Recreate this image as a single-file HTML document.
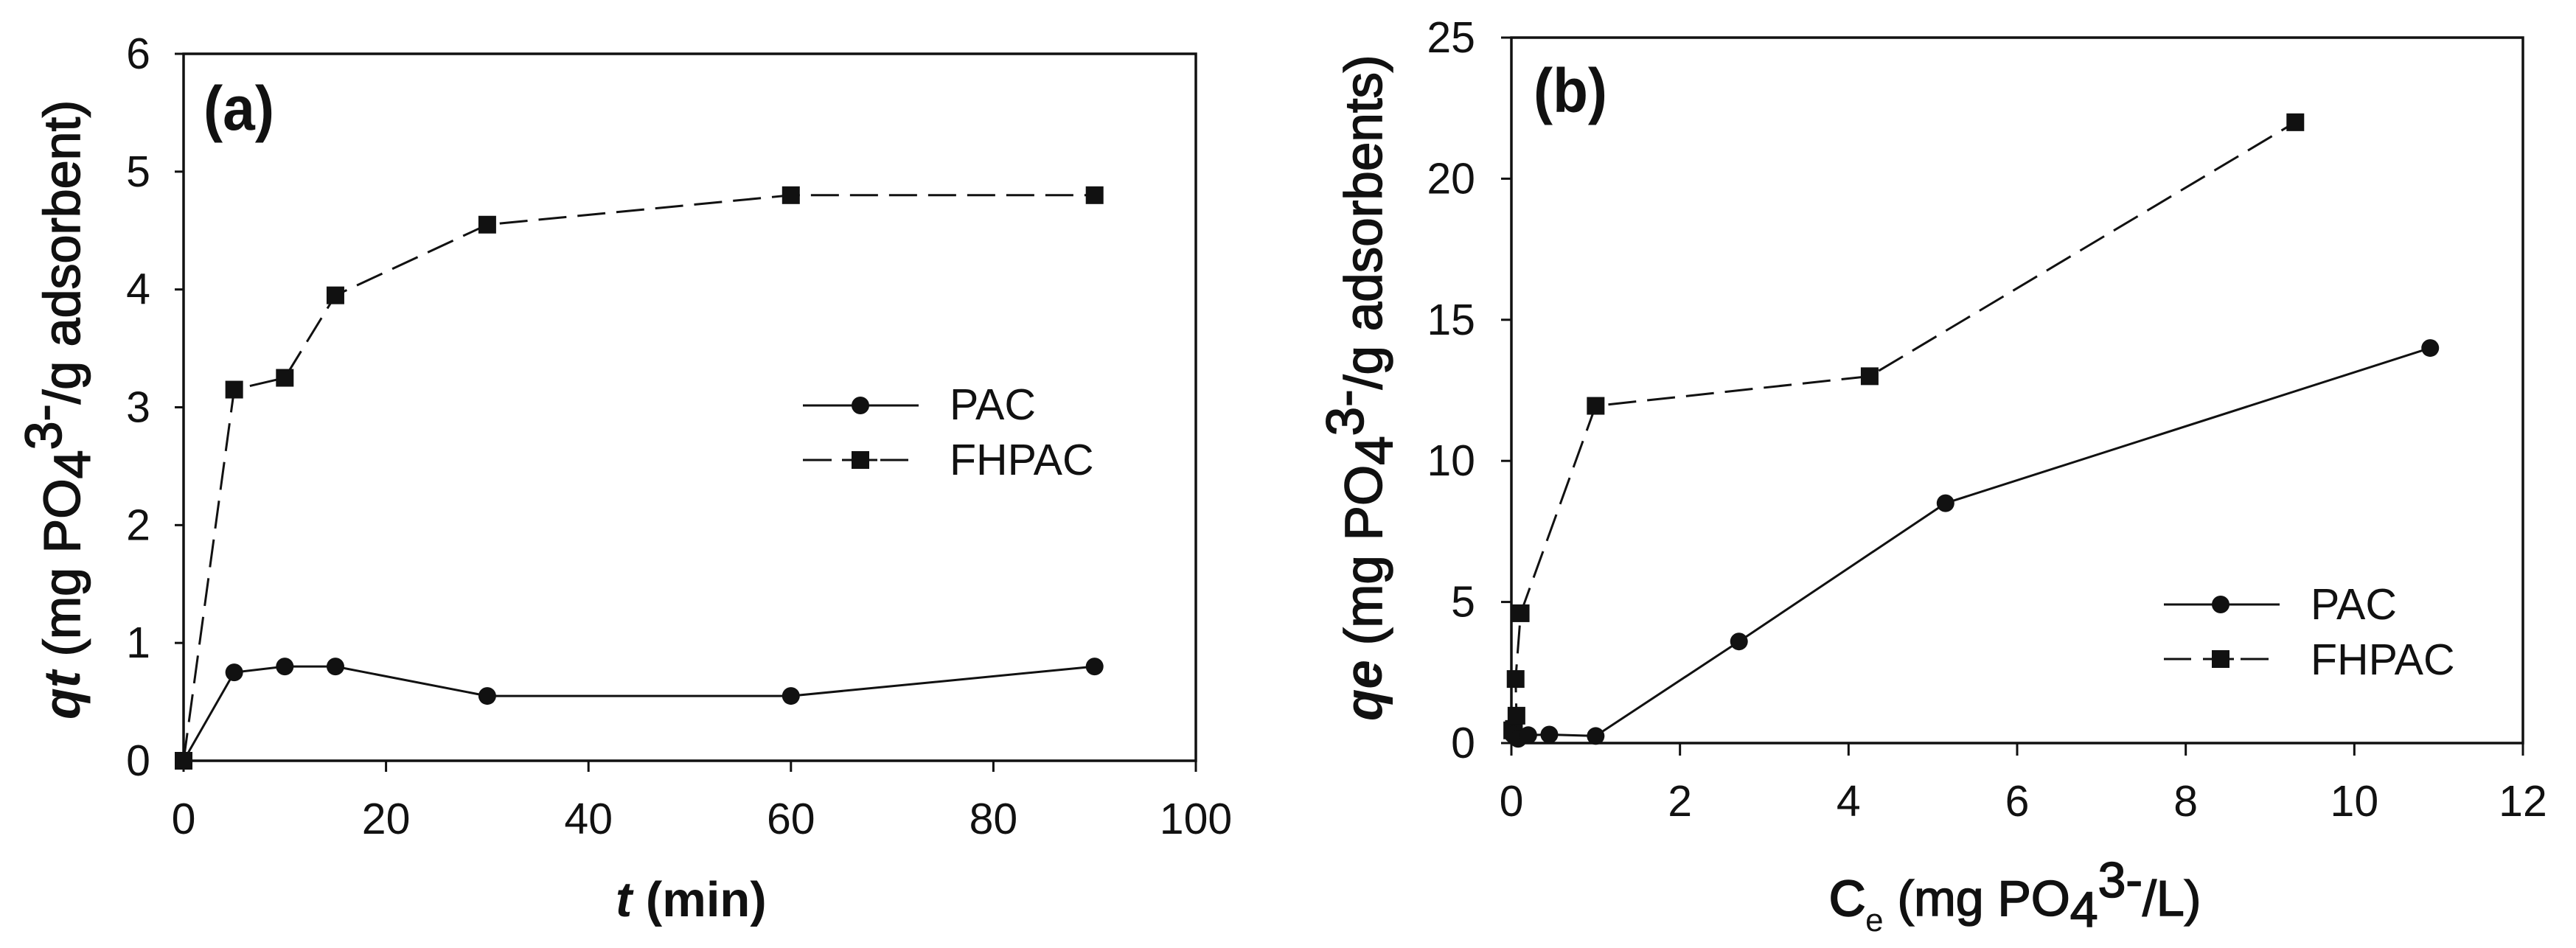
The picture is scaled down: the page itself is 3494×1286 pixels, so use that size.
<!DOCTYPE html>
<html lang="en">
<head>
<meta charset="utf-8">
<title>PAC and FHPAC phosphate adsorption</title>
<style>
html,body{margin:0;padding:0;background:#fff;}
svg{display:block;font-family:"Liberation Sans",sans-serif;fill:#111;}
.med{stroke:#111;stroke-width:1.6;}
</style>
</head>
<body>
<svg id="figure" width="3494" height="1286" viewBox="0 0 3494 1286" xmlns="http://www.w3.org/2000/svg">
  <rect width="3494" height="1286" fill="#fff"/>
  <g id="panel-a"></g>
  <g id="panel-b"></g>

  <text x="276" y="176" font-size="84" font-weight="bold" textLength="96" lengthAdjust="spacingAndGlyphs">(a)</text>
  <text x="2080" y="152" font-size="84" font-weight="bold" textLength="100" lengthAdjust="spacingAndGlyphs">(b)</text>

  <text class="med" transform="translate(108,976) rotate(-90)" font-size="70"><tspan font-weight="bold" font-style="italic" stroke="none">qt</tspan> (mg PO<tspan dy="14">4</tspan><tspan dy="-39">3-</tspan><tspan dy="25">/g adsorbent)</tspan></text>
  <text x="835" y="1243" font-size="67" font-weight="bold"><tspan font-style="italic">t</tspan> (min)</text>

  <text class="med" transform="translate(1874,978) rotate(-90)" font-size="71"><tspan font-weight="bold" font-style="italic" stroke="none">qe</tspan> (mg PO<tspan dy="14">4</tspan><tspan dy="-39">3-</tspan><tspan dy="25">/g adsorbents)</tspan></text>
  <text class="med" x="2481" y="1242" font-size="68"><tspan stroke-width="2.5">C</tspan><tspan stroke="none" font-size="44" dy="21">e</tspan><tspan dy="-21"> (mg PO</tspan><tspan dy="15">4</tspan><tspan dy="-40">3-</tspan><tspan dy="25">/L)</tspan></text>
</svg>
<script>
// Panel (a): adsorption kinetics
const aXTicks = [0, 20, 40, 60, 80, 100];
const aYTicks = [0, 1, 2, 3, 4, 5, 6];
const aTime = [0, 5, 10, 15, 30, 60, 90];
const aPac = [0, 0.75, 0.8, 0.8, 0.55, 0.55, 0.8];
const aFhpac = [0, 3.15, 3.25, 3.95, 4.55, 4.8, 4.8];

// Panel (b): adsorption isotherm
const bXTicks = [0, 2, 4, 6, 8, 10, 12];
const bYTicks = [0, 5, 10, 15, 20, 25];
const bPacCe = [0.02, 0.08, 0.2, 0.45, 1.0, 2.7, 5.15, 10.9];
const bPacQe = [0.3, 0.15, 0.28, 0.3, 0.25, 3.6, 8.5, 14];
const bFhpacCe = [0.01, 0.03, 0.06, 0.05, 0.11, 1.0, 4.25, 9.3];
const bFhpacQe = [0.45, 0.5, 0.97, 2.27, 4.6, 11.95, 13, 22];

const seriesNames = ['PAC', 'FHPAC'];

const NS = 'http://www.w3.org/2000/svg';
const INK = '#111';
const DASH = '38 15';

function make(parent, tag, attrs) {
  const el = document.createElementNS(NS, tag);
  for (const k in attrs) el.setAttribute(k, attrs[k]);
  parent.appendChild(el);
  return el;
}

function scale(d0, d1, r0, r1) {
  return function (v) { return r0 + (v - d0) / (d1 - d0) * (r1 - r0); };
}

function drawFrame(g, box, xTicks, yTicks, sx, sy, xLabelY, yLabelX, tickX, tickY) {
  const frame = make(g, 'rect', {x: box.left, y: box.top, width: box.right - box.left, height: box.bottom - box.top, fill: 'none', stroke: INK, 'stroke-width': 3.5});
  
  
  xTicks.forEach(function (t) {
    const tick = make(g, 'line', {x1: sx(t), x2: sx(t), y1: box.bottom, y2: box.bottom + tickX, stroke: INK, 'stroke-width': 3});
    
    
    const label = make(g, 'text', {x: sx(t), y: xLabelY, 'font-size': 59, 'text-anchor': 'middle'});
    label.textContent = t;
    
    
  });
  yTicks.forEach(function (t) {
    const tick = make(g, 'line', {x1: box.left - tickY, x2: box.left, y1: sy(t), y2: sy(t), stroke: INK, 'stroke-width': 3});
    
    
    const label = make(g, 'text', {x: yLabelX, y: sy(t) + 20, 'font-size': 59, 'text-anchor': 'end'});
    label.textContent = t;
    
    
  });
}

function marker(g, kind, x, y) {
  if (kind === 'circle') {
    return make(g, 'circle', {cx: x, cy: y, r: 12, fill: INK});
  }
  return make(g, 'rect', {x: x - 12, y: y - 12, width: 24, height: 24, fill: INK});
}

function drawSeries(g, xs, ys, sx, sy, kind, dashed, name) {
  const pts = xs.map(function (x, i) { return sx(x).toFixed(1) + ',' + sy(ys[i]).toFixed(1); }).join(' ');
  const attrs = {points: pts, fill: 'none', stroke: INK, 'stroke-width': 3};
  if (dashed) attrs['stroke-dasharray'] = DASH;
  const line = make(g, 'polyline', attrs);
  
  
  xs.forEach(function (x, i) {
    const m = marker(g, kind, sx(x), sy(ys[i]));
    
    
  });
}

function drawLegend(g, lineX0, lineX1, markerX, solidY, dashY, textX, text1Y, text2Y, segs) {
  const solid = make(g, 'line', {x1: lineX0, x2: lineX1, y1: solidY, y2: solidY, stroke: INK, 'stroke-width': 3});
  
  
  const c = marker(g, 'circle', markerX, solidY);
  
  
  const t1 = make(g, 'text', {x: textX, y: text1Y, 'font-size': 59});
  t1.textContent = seriesNames[0];
  
  

  segs.forEach(function (s) {
    const d = make(g, 'line', {x1: s[0], x2: s[1], y1: dashY, y2: dashY, stroke: INK, 'stroke-width': 3});
    
    
  });
  const m = marker(g, 'square', markerX, dashY);
  
  
  const t2 = make(g, 'text', {x: textX, y: text2Y, 'font-size': 59});
  t2.textContent = seriesNames[1];
  
  
}

// Panel (a)
(function () {
  const g = document.getElementById('panel-a');
  const box = {left: 249, right: 1622, top: 73, bottom: 1032};
  const sx = scale(0, 100, box.left, box.right);
  const sy = scale(0, 6, box.bottom, box.top);
  drawFrame(g, box, aXTicks, aYTicks, sx, sy, 1131, 204, 15, 12);
  drawSeries(g, aTime, aFhpac, sx, sy, 'square', true, 'fhpac');
  drawSeries(g, aTime, aPac, sx, sy, 'circle', false, 'pac');
  drawLegend(g, 1089, 1246, 1167, 550, 624, 1288, 569, 644, [[1089, 1128], [1142, 1190], [1194, 1232]]);
})();

// Panel (b)
(function () {
  const g = document.getElementById('panel-b');
  const box = {left: 2050, right: 3422, top: 51, bottom: 1008};
  const sx = scale(0, 12, box.left, box.right);
  const sy = scale(0, 25, box.bottom, box.top);
  drawFrame(g, box, bXTicks, bYTicks, sx, sy, 1107, 2001, 17, 14);
  drawSeries(g, bFhpacCe, bFhpacQe, sx, sy, 'square', true, 'fhpac');
  drawSeries(g, bPacCe, bPacQe, sx, sy, 'circle', false, 'pac');
  drawLegend(g, 2935, 3092, 3012, 820, 894, 3134, 840, 915, [[2935, 2972], [2988, 3030], [3039, 3077]]);
})();
</script>
</body>
</html>
